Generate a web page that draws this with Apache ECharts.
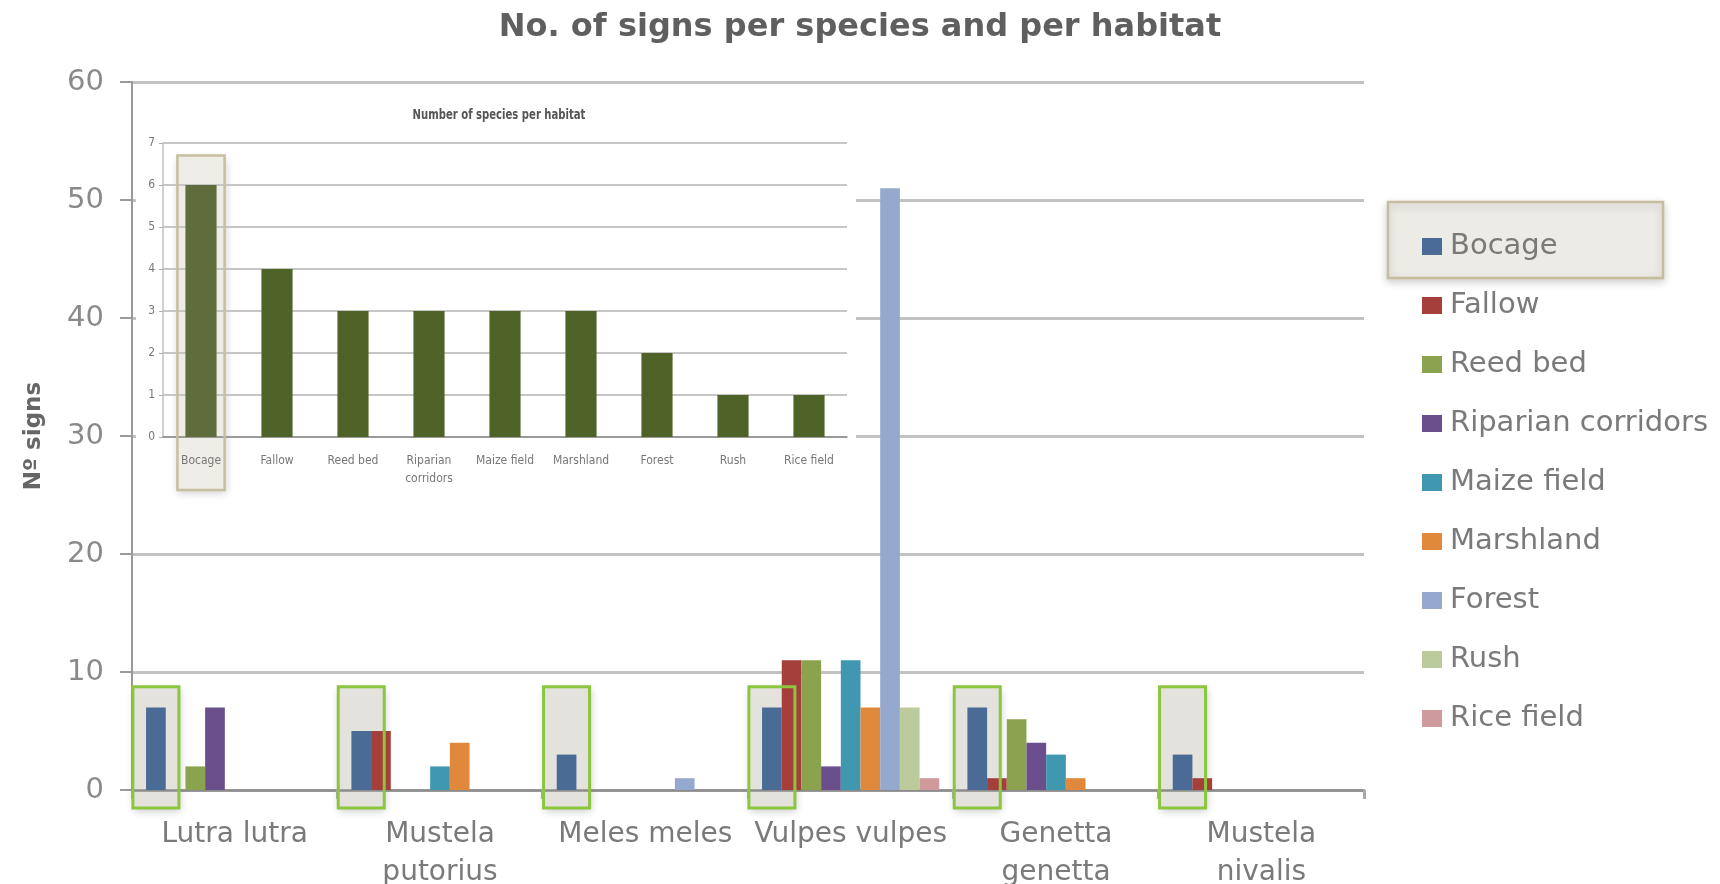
<!DOCTYPE html>
<html>
<head>
<meta charset="utf-8">
<script src="https://cdn.jsdelivr.net/npm/echarts@6/dist/echarts.min.js"></script>
<style>
html,body{margin:0;padding:0;background:#fff;}
#chart{width:1720px;height:884px;}
</style>
</head>
<body>
<div id="chart"></div>
<script>
// ---------- data ----------
const species = ['Lutra lutra', 'Mustela\nputorius', 'Meles meles', 'Vulpes vulpes', 'Genetta\ngenetta', 'Mustela\nnivalis'];
const habitats = ['Bocage', 'Fallow', 'Reed bed', 'Riparian corridors', 'Maize field', 'Marshland', 'Forest', 'Rush', 'Rice field'];

const bocage     = [7, 5, 3, 7, 7, 3];
const fallow     = [0, 5, 0, 11, 1, 1];
const reedBed    = [2, 0, 0, 11, 6, 0];
const riparian   = [7, 0, 0, 2, 4, 0];
const maizeField = [0, 2, 0, 11, 3, 0];
const marshland  = [0, 4, 0, 7, 1, 0];
const forest     = [0, 0, 1, 51, 0, 0];
const rush       = [0, 0, 0, 7, 0, 0];
const riceField  = [0, 0, 0, 1, 0, 0];

const yTicks = [0, 10, 20, 30, 40, 50, 60];

// inset chart
const insetTitle = 'Number of species per habitat';
const insetCategories = ['Bocage', 'Fallow', 'Reed bed', 'Riparian\ncorridors', 'Maize field', 'Marshland', 'Forest', 'Rush', 'Rice field'];
const speciesPerHabitat = [6, 4, 3, 3, 3, 3, 2, 1, 1];
const insetTicks = [0, 1, 2, 3, 4, 5, 6, 7];

// ---------- styling ----------
const seriesValues = [bocage, fallow, reedBed, riparian, maizeField, marshland, forest, rush, riceField];
const colors = ['#4a6b96', '#a53f3c', '#8ba24e', '#6a4f8c', '#3f98b0', '#e0883c', '#95a8cd', '#bccb9c', '#cf9a9c'];
const MAIN_GAP = 0.137;
const INSET_GAP = 0.59;
const font = "'DejaVu Sans', Verdana, sans-serif";
const narrow = "'Liberation Sans Narrow', 'DejaVu Sans Condensed', 'Open Sans', sans-serif";

const chart = echarts.init(document.getElementById('chart'), null, {renderer: 'canvas'});

const barSeries = habitats.map((h, k) => ({
  name: h,
  type: 'bar',
  xAxisIndex: 0,
  yAxisIndex: 0,
  data: seriesValues[k],
  barGap: '0%',
  barCategoryGap: (MAIN_GAP * 100) + '%',
  itemStyle: {color: colors[k]},
  z: 2,
  silent: true
}));

function bocageBox(params, api, layer) {
  const i = api.value(0);
  const base = api.coord([i, 0]);
  const band = api.size([1, 0])[0];
  const barsW = band * (1 - MAIN_GAP);
  const slot = barsW / habitats.length;
  const cx = base[0] - barsW / 2 + slot / 2;
  const top = api.coord([i, 8.75])[1];
  const w = 46;
  const shape = {x: cx - w / 2, y: top, width: w, height: base[1] + 18 - top};
  if (layer === 'fill') {
    return {type: 'rect', shape: shape, style: {fill: '#e3e2dc', shadowBlur: 8, shadowColor: 'rgba(0,0,0,0.22)', shadowOffsetY: 3, shadowOffsetX: 1}};
  }
  return {type: 'rect', shape: shape, style: {fill: 'none', stroke: '#8cc63f', lineWidth: 3}};
}

function insetBox(params, api, layer) {
  const i = api.value(0);
  const base = api.coord([i, 0]);
  const band = api.size([1, 0])[0];
  const barW = band * (1 - INSET_GAP);
  const top = api.coord([i, 6.7])[1];
  const w = barW + 16;
  const shape = {x: base[0] - w / 2, y: top, width: w, height: base[1] + 53 - top};
  if (layer === 'fill') {
    return {type: 'rect', shape: shape, style: {fill: '#eeede8', shadowBlur: 8, shadowColor: 'rgba(0,0,0,0.2)', shadowOffsetY: 3, shadowOffsetX: 1}};
  }
  return {type: 'rect', shape: shape, style: {fill: 'none', stroke: '#c7bf9d', lineWidth: 2.5}};
}

const boxData = species.map((s, i) => [i, 0]);

const option = {
  animation: false,
  backgroundColor: '#ffffff',
  title: {
    text: 'No. of signs per species and per habitat',
    left: 'center',
    top: 7,
    textStyle: {fontFamily: font, fontWeight: 'bold', fontSize: 32, color: '#5f5f5f'}
  },
  legend: {
    orient: 'vertical',
    left: 1417,
    top: 227,
    itemWidth: 20,
    itemHeight: 17,
    itemGap: 30,
    icon: 'rect',
    selectedMode: false,
    data: habitats,
    textStyle: {fontFamily: font, fontSize: 29, color: '#7a7a7a', lineHeight: 29, padding: [0, 0, 0, 3]}
  },
  grid: [
    {left: 132, right: 356, top: 82, bottom: 94, outerBoundsMode: 'none', containLabel: false},
    {left: 163, right: 873, top: 143, bottom: 447, outerBoundsMode: 'none', containLabel: false}
  ],
  xAxis: [
    {
      type: 'category', gridIndex: 0, data: species, z: 2,
      axisLine: {lineStyle: {color: '#8c8c8c', width: 2.5}},
      axisTick: {show: true, length: 9, lineStyle: {color: '#a8a8a8', width: 3}},
      axisLabel: {interval: 0, color: '#7a7a7a', fontSize: 28, fontFamily: font, lineHeight: 38, margin: 26}
    },
    {
      type: 'category', gridIndex: 1, data: insetCategories, z: 3,
      axisLine: {lineStyle: {color: '#8c8c8c', width: 1.5}},
      axisTick: {show: false},
      axisLabel: {interval: 0, color: '#777', fontSize: 12, fontFamily: narrow, lineHeight: 18, margin: 15}
    }
  ],
  yAxis: [
    {
      type: 'value', gridIndex: 0, min: yTicks[0], max: yTicks[yTicks.length - 1], interval: yTicks[1] - yTicks[0],
      name: 'Nº signs', nameLocation: 'middle', nameGap: 86, nameRotate: 90,
      nameTextStyle: {fontFamily: font, fontWeight: 'bold', fontSize: 23, color: '#666'},
      axisLine: {show: true, lineStyle: {color: '#9a9a9a', width: 2}},
      axisTick: {show: true, length: 12, lineStyle: {color: '#9a9a9a', width: 2}},
      splitLine: {lineStyle: {color: '#c2c2c2', width: 3}},
      axisLabel: {color: '#8a8a8a', fontSize: 29, fontFamily: font, margin: 28}
    },
    {
      type: 'value', gridIndex: 1, min: insetTicks[0], max: insetTicks[insetTicks.length - 1], interval: insetTicks[1] - insetTicks[0], z: 3,
      axisLine: {show: true, lineStyle: {color: '#c0c0c0', width: 1.5}},
      axisTick: {show: true, length: 4, lineStyle: {color: '#b0b0b0'}},
      splitLine: {lineStyle: {color: '#c6c6c6', width: 2}},
      axisLabel: {color: '#777', fontSize: 12, fontFamily: narrow, margin: 8}
    }
  ],
  graphic: [
    {type: 'rect', z: 1, silent: true, shape: {x: 136, y: 93, width: 720, height: 408}, style: {fill: '#ffffff'}},
    {type: 'rect', z: 1, silent: true, shape: {x: 1388, y: 202, width: 275, height: 76},
     style: {fill: '#ecebe6', stroke: '#c5bd9b', lineWidth: 2.5, shadowBlur: 8, shadowColor: 'rgba(0,0,0,0.18)', shadowOffsetY: 3}},
    {type: 'text', z: 10, silent: true, x: 499, y: 115, scaleX: 0.8,
     style: {text: insetTitle, fill: '#555', font: 'bold 14px ' + narrow, align: 'center', verticalAlign: 'middle'}}
  ],
  series: [
    {
      type: 'custom', name: 'boxFill', xAxisIndex: 0, yAxisIndex: 0, z: 1, silent: true,
      encode: {x: 0, y: 1}, data: boxData,
      renderItem: (p, api) => bocageBox(p, api, 'fill')
    },
    ...barSeries,
    {
      type: 'custom', name: 'boxBorder', xAxisIndex: 0, yAxisIndex: 0, z: 4, silent: true,
      encode: {x: 0, y: 1}, data: boxData,
      renderItem: (p, api) => bocageBox(p, api, 'border')
    },
    {
      type: 'custom', name: 'insetBoxFill', xAxisIndex: 1, yAxisIndex: 1, z: 2, silent: true,
      encode: {x: 0, y: 1}, data: [[0, 0]],
      renderItem: (p, api) => insetBox(p, api, 'fill')
    },
    {
      type: 'bar', name: 'insetBars', xAxisIndex: 1, yAxisIndex: 1, z: 4, silent: true,
      barCategoryGap: (INSET_GAP * 100) + '%',
      data: speciesPerHabitat.map((v, i) => i === 0 ? {value: v, itemStyle: {color: '#5e6d3b'}} : v),
      itemStyle: {color: '#4f6228'}
    },
    {
      type: 'custom', name: 'insetBoxBorder', xAxisIndex: 1, yAxisIndex: 1, z: 5, silent: true,
      encode: {x: 0, y: 1}, data: [[0, 0]],
      renderItem: (p, api) => insetBox(p, api, 'border')
    }
  ]
};

chart.setOption(option);
</script>
</body>
</html>
